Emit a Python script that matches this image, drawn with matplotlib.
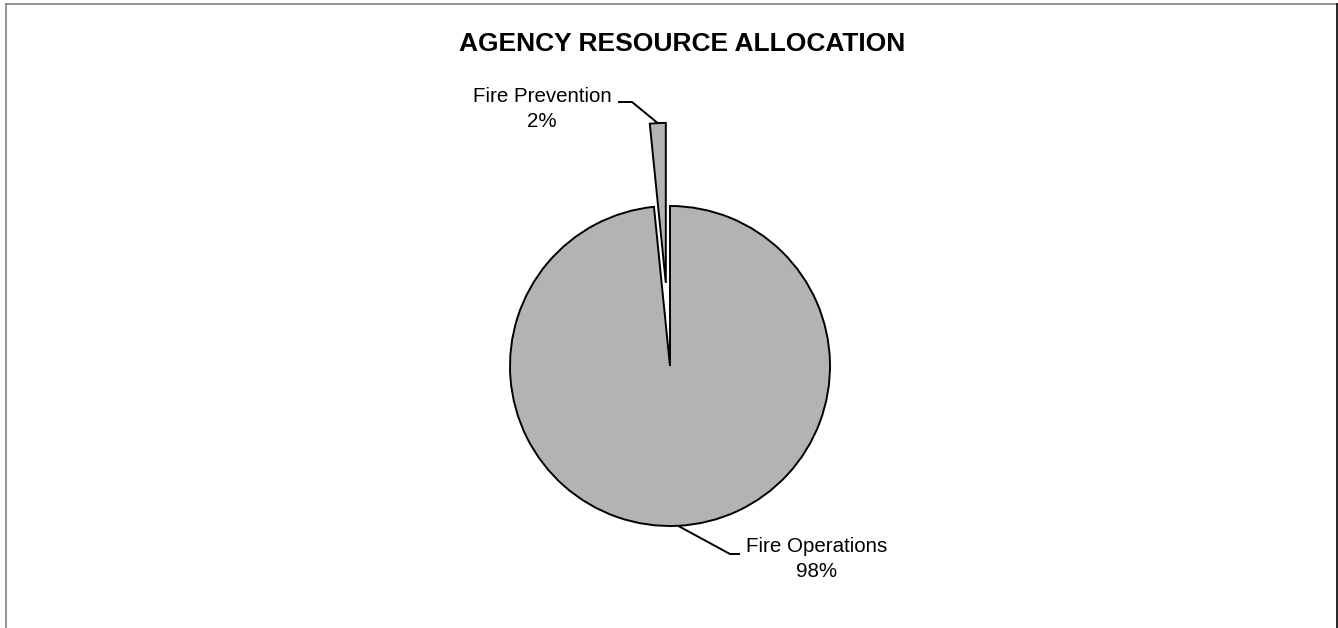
import numpy as np
import matplotlib.pyplot as plt
from matplotlib.lines import Line2D

# data
categories = ['Fire Operations', 'Fire Prevention']
shares = [98.4, 1.6]
explode = [0.0, 0.52]  # fraction of radius

W, H = 1338, 628
plt.rcParams['font.family'] = ['Liberation Sans', 'DejaVu Sans']

fig = plt.figure(figsize=(W / 100, H / 100), dpi=100)
ax = fig.add_axes([0, 0, 1, 1])

# pie in pixel units (y measured from bottom)
cx, cy, R = 670, H - 366, 160
wedges, _ = ax.pie(shares, explode=[e * R for e in explode], startangle=90,
                   counterclock=False, center=(cx, cy), radius=R,
                   colors=['#b3b3b3'] * 2,
                   wedgeprops=dict(edgecolor='black', linewidth=1.4),
                   frame=True)
ax.set_xlim(0, W)
ax.set_ylim(0, H)
ax.set_aspect('auto')
ax.axis('off')


def edge_point(w):
    mid = np.deg2rad((w.theta1 + w.theta2) / 2)
    x0, y0 = w.center
    return x0 + w.r * np.cos(mid), y0 + w.r * np.sin(mid)


# label position (text centre), elbow end, text side
label_pos = {
    'Fire Operations': ((817, H - 559), (730, H - 554), (740, H - 554)),
    'Fire Prevention': ((542, H - 109), (632, H - 102), (618, H - 102)),
}

for w, name, val in zip(wedges, categories, shares):
    (tx, ty), elbow, side = label_pos[name]
    ax.text(tx, ty, f'{name}\n{val:.0f}%', ha='center', va='center',
            multialignment='center', fontsize=14.8, linespacing=1.35)
    px, py = edge_point(w)
    ax.plot([px, elbow[0], side[0]], [py, elbow[1], side[1]],
            color='black', lw=1.4, solid_capstyle='butt')

ax.text(682, H - 44, 'AGENCY RESOURCE ALLOCATION', ha='center', va='center',
        fontsize=19, fontweight='bold')

# chart-area border
fig.add_artist(Line2D([5.5 / W, 5.5 / W], [0, 1 - 3.5 / H], color='#808080', lw=1.2))
fig.add_artist(Line2D([5.5 / W, 1], [1 - 3.5 / H, 1 - 3.5 / H], color='#808080', lw=1.2))
fig.add_artist(Line2D([1 - 1.5 / W, 1 - 1.5 / W], [0, 1 - 3.5 / H], color='black', lw=1.2))

fig.savefig('out.png', dpi=100, facecolor='white')
